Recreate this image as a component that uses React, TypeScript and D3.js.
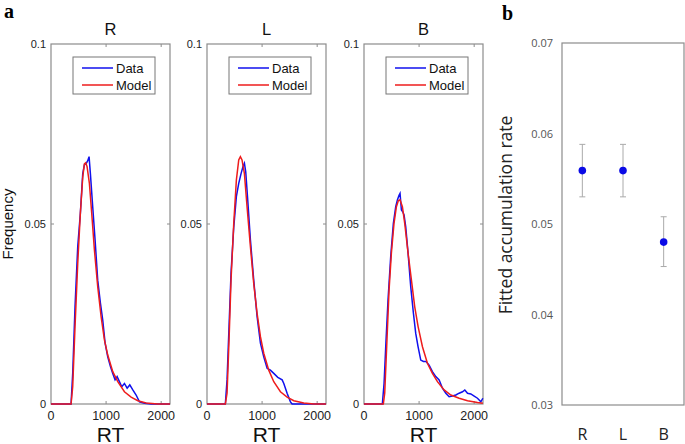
import React from 'react';
import * as d3 from 'd3';

// RT histograms (RT in ms, frequency)
const panelNames = ['R', 'L', 'B'];

const rData: [number, number][] = [
  [0, 0], [345, 0], [364, 0], [394, 0.0085], [436, 0.027], [485, 0.0437], [533, 0.053],
  [576, 0.064], [606, 0.0664], [642, 0.0669], [667, 0.0676], [691, 0.0687], [715, 0.064],
  [757, 0.0548], [800, 0.0456], [848, 0.0344], [897, 0.028], [939, 0.0233], [982, 0.0169],
  [1030, 0.0131], [1079, 0.0104], [1121, 0.0085], [1163, 0.0067], [1200, 0.0076],
  [1242, 0.0062], [1285, 0.0048], [1333, 0.0057], [1382, 0.0044], [1430, 0.0053],
  [1485, 0.0039], [1545, 0.0025], [1606, 0.0006], [1697, 0.0002], [1818, 0], [2160, 0],
];
const rModel: [number, number][] = [
  [0, 0], [364, 0], [394, 0.0048], [436, 0.0215], [485, 0.039], [533, 0.053], [576, 0.063],
  [606, 0.0667], [630, 0.067], [654, 0.066], [697, 0.0613], [739, 0.053], [788, 0.0428],
  [848, 0.0326], [909, 0.0243], [970, 0.0178], [1030, 0.0136], [1121, 0.009], [1212, 0.0062],
  [1333, 0.0034], [1454, 0.0019], [1576, 0.0009], [1727, 0.0003], [1939, 0], [2160, 0],
];
const lData: [number, number][] = [
  [0, 0], [333, 0], [364, 0.0067], [400, 0.0215], [436, 0.0363], [485, 0.049], [533, 0.0576],
  [576, 0.0613], [618, 0.064], [654, 0.066], [679, 0.0669], [703, 0.0645], [739, 0.0567],
  [788, 0.0456], [848, 0.0344], [909, 0.0243], [970, 0.0169], [1030, 0.0131], [1091, 0.0099],
  [1151, 0.0094], [1212, 0.0085], [1285, 0.0074], [1364, 0.0067], [1394, 0.0057],
  [1454, 0.003], [1515, 0.0006], [1545, 0], [2160, 0],
];
const lModel: [number, number][] = [
  [0, 0], [333, 0], [364, 0.003], [400, 0.0178], [436, 0.0344], [485, 0.05], [533, 0.0622],
  [576, 0.0678], [606, 0.0687], [636, 0.0678], [679, 0.064], [727, 0.0548], [788, 0.0437],
  [848, 0.0335], [909, 0.0252], [970, 0.0187], [1030, 0.0141], [1121, 0.0094], [1212, 0.0062],
  [1333, 0.0034], [1454, 0.0019], [1576, 0.0009], [1757, 0.0003], [1939, 0], [2160, 0],
];
const bData: [number, number][] = [
  [0, 0], [333, 0], [364, 0.0057], [400, 0.0178], [436, 0.0289], [485, 0.041], [533, 0.0502],
  [576, 0.0548], [606, 0.0567], [636, 0.058], [654, 0.0585], [679, 0.0539], [703, 0.0534],
  [727, 0.0525], [757, 0.0493], [800, 0.0419], [848, 0.0326], [897, 0.0252], [939, 0.0196],
  [982, 0.0159], [1030, 0.0122], [1079, 0.0118], [1127, 0.0118], [1182, 0.0108],
  [1242, 0.009], [1303, 0.0076], [1364, 0.0067], [1424, 0.0044], [1485, 0.003],
  [1545, 0.002], [1606, 0.0022], [1667, 0.0025], [1727, 0.003], [1788, 0.0034],
  [1830, 0.0039], [1879, 0.003], [1939, 0.0028], [2000, 0.0022], [2060, 0.0016],
  [2121, 0.0006], [2157, 0.0016],
];
const bModel: [number, number][] = [
  [0, 0], [351, 0], [376, 0.003], [412, 0.016], [455, 0.0317], [497, 0.0419], [545, 0.0502],
  [588, 0.0548], [624, 0.0565], [654, 0.0567], [697, 0.0548], [739, 0.0502], [800, 0.0419],
  [861, 0.0344], [921, 0.027], [982, 0.0215], [1061, 0.0159], [1151, 0.0113], [1242, 0.0085],
  [1333, 0.0062], [1454, 0.0039], [1576, 0.0025], [1727, 0.0016], [1879, 0.0009],
  [2060, 0.0004], [2157, 0.0002],
];
const panelData = [rData, lData, bData];
const panelModel = [rModel, lModel, bModel];

const xTicks = [0, 1000, 2000];
const yTicks = [0, 0.05, 0.1];
const yTickLabels = ['0', '0.05', '0.1'];

// fitted accumulation rate
const conditions = ['R', 'L', 'B'];
const rates = [0.0559, 0.0559, 0.048];
const rateLow = [0.053, 0.053, 0.0453];
const rateHigh = [0.0588, 0.0588, 0.0508];
const rateTicks = [0.03, 0.04, 0.05, 0.06, 0.07];

const panelLeft = [51, 207, 364];
const pw = 119;
const top = 44;
const bottom = 404;
const fontA = 'Arial, "Liberation Sans", sans-serif';
const fontB = '"Open Sans", "Noto Sans", sans-serif';
const boxColor = '#8c8c8c';

function HistPanel({ i }: { i: number }) {
  const left = panelLeft[i];
  const x = d3.scaleLinear().domain([0, 2160]).range([left, left + pw]);
  const y = d3.scaleLinear().domain([0, 0.1]).range([bottom, top]);
  const ln = d3.line<[number, number]>().x(d => x(d[0])).y(d => y(d[1]));
  const lg = { x: left + 22, y: 57, w: 82, h: 37 };
  return (
    <g>
      <rect x={left} y={top} width={pw} height={bottom - top} fill="#fff" stroke={boxColor} strokeWidth={1.2} />
      {xTicks.slice(1).map(t => (
        <g key={'xt' + t} stroke={boxColor}>
          <line x1={x(t)} x2={x(t)} y1={top} y2={top + 3} />
          <line x1={x(t)} x2={x(t)} y1={bottom} y2={bottom - 3} />
        </g>
      ))}
      <g stroke={boxColor}>
        <line x1={left} x2={left + 3} y1={y(0.05)} y2={y(0.05)} />
        <line x1={left + pw} x2={left + pw - 3} y1={y(0.05)} y2={y(0.05)} />
      </g>
      <path d={ln(panelData[i]) || ''} fill="none" stroke="#1010ee" strokeWidth={1.5} />
      <path d={ln(panelModel[i]) || ''} fill="none" stroke="#ee1c1c" strokeWidth={1.5} />
      {xTicks.map(t => (
        <text key={'xl' + t} x={x(t)} y={419.5} textAnchor="middle" fontSize={12.5} fill="#222" fontFamily={fontA}>{t}</text>
      ))}
      {yTicks.map((t, k) => (
        <text key={'yl' + t} x={left - 5} y={y(t) + 4} textAnchor="end" fontSize={11} fill="#222" fontFamily={fontA}>{yTickLabels[k]}</text>
      ))}
      <text x={left + pw / 2} y={35} textAnchor="middle" fontSize={16.5} fontFamily={fontA} fill="#111">{panelNames[i]}</text>
      <text x={left + pw / 2} y={441.5} textAnchor="middle" fontSize={21} fontFamily={fontA} fill="#111">RT</text>
      <rect x={lg.x} y={lg.y} width={lg.w} height={lg.h} fill="#fff" stroke="#777" strokeWidth={1} />
      <line x1={lg.x + 9} x2={lg.x + 40} y1={lg.y + 11} y2={lg.y + 11} stroke="#1010ee" strokeWidth={1.5} />
      <line x1={lg.x + 9} x2={lg.x + 40} y1={lg.y + 28} y2={lg.y + 28} stroke="#ee1c1c" strokeWidth={1.5} />
      <text x={lg.x + 43} y={lg.y + 15.5} fontSize={13} fontFamily={fontA} fill="#111">Data</text>
      <text x={lg.x + 43} y={lg.y + 32.5} fontSize={13} fontFamily={fontA} fill="#111">Model</text>
    </g>
  );
}

function RatePanel() {
  const left = 562;
  const right = 684;
  const x = d3.scalePoint<string>().domain(conditions).range([left, right]).padding(0.5);
  const y = d3.scaleLinear().domain([0.03, 0.07]).range([405, 43]);
  return (
    <g>
      <rect x={left} y={y(0.07)} width={right - left} height={y(0.03) - y(0.07)} fill="#fff" stroke={boxColor} strokeWidth={1.2} />
      {rateTicks.map(t => (
        <text key={t} x={left - 9} y={y(t) + 4} textAnchor="end" fontSize={11} fill="#555" fontFamily={fontB}>{t.toFixed(2)}</text>
      ))}
      {conditions.map((c, k) => {
        const cx = x(c) as number;
        return (
          <g key={c}>
            <g stroke="#aaa" strokeWidth={1}>
              <line x1={cx} x2={cx} y1={y(rateHigh[k])} y2={y(rateLow[k])} />
              <line x1={cx - 3} x2={cx + 3} y1={y(rateHigh[k])} y2={y(rateHigh[k])} />
              <line x1={cx - 3} x2={cx + 3} y1={y(rateLow[k])} y2={y(rateLow[k])} />
            </g>
            <circle cx={cx} cy={y(rates[k])} r={3.8} fill="#0a0ae6" />
            <text x={cx} y={440} textAnchor="middle" fontSize={16} fill="#222" fontFamily={fontB}>{c}</text>
          </g>
        );
      })}
      <text transform="translate(512,215) rotate(-90)" textAnchor="middle" fontSize={17.5} fill="#222" fontFamily={fontB}>Fitted accumulation rate</text>
    </g>
  );
}

export default function App() {
  return (
    <svg width={685} height={444} style={{ position: 'absolute', left: 0, top: 0, background: '#fff' }}>
      <rect width={685} height={444} fill="#fff" />
      <text x={4} y={18} fontSize={20} fontWeight="bold" fontFamily='"Liberation Serif", "DejaVu Serif", serif'>a</text>
      <text x={502} y={20} fontSize={20} fontWeight="bold" fontFamily='"Liberation Serif", "DejaVu Serif", serif'>b</text>
      {panelNames.map((_, i) => <HistPanel key={i} i={i} />)}
      <text transform="translate(13,224) rotate(-90)" textAnchor="middle" fontSize={15} fontFamily={fontA} fill="#111">Frequency</text>
      <RatePanel />
    </svg>
  );
}
